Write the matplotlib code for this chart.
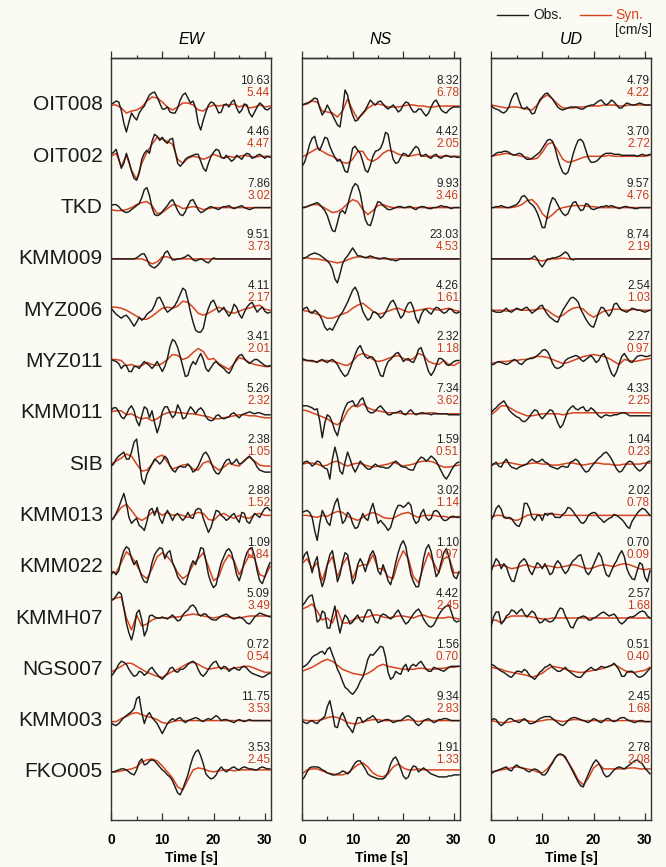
import numpy as np
import matplotlib
matplotlib.use("Agg")
import matplotlib.pyplot as plt
from matplotlib.lines import Line2D
from matplotlib.ticker import MultipleLocator

# ---------------- data ----------------
stations = ["OIT008", "OIT002", "TKD", "KMM009", "MYZ006", "MYZ011", "KMM011",
            "SIB", "KMM013", "KMM022", "KMMH07", "NGS007", "KMM003", "FKO005"]
components = ["EW", "NS", "UD"]

ew_obs_peak = [10.63, 4.46, 7.86, 9.51, 4.11, 3.41, 5.26, 2.38, 2.88, 1.09, 5.09, 0.72, 11.75, 3.53]
ew_syn_peak = [5.44, 4.47, 3.02, 3.73, 2.17, 2.01, 2.32, 1.05, 1.52, 0.84, 3.49, 0.54, 3.53, 2.45]
ns_obs_peak = [8.32, 4.42, 9.93, 23.03, 4.26, 2.32, 7.34, 1.59, 3.02, 1.10, 4.42, 1.56, 9.34, 1.91]
ns_syn_peak = [6.78, 2.05, 3.46, 4.53, 1.61, 1.18, 3.62, 0.51, 1.14, 0.97, 2.45, 0.70, 2.83, 1.33]
ud_obs_peak = [4.79, 3.70, 9.57, 8.74, 2.54, 2.27, 4.33, 1.04, 2.02, 0.70, 2.57, 0.51, 2.45, 2.78]
ud_syn_peak = [4.22, 2.72, 4.76, 2.19, 1.03, 0.97, 2.25, 0.23, 0.78, 0.09, 1.68, 0.40, 1.68, 2.08]

obs_dt = 0.5
syn_dt = 1.0   # s, sampling of synthetic traces

# waveform amplitudes (plot units, positive up)
ew_oit008_obs = [1,2,4,3,-5,-18,-27,-17,-8,-12,-15,-8,-4,-1,5,10,12,13,8,2,-4,-4,-2,-7,-8,-8,-3,5,10,12,7,2,4,-3,-18,-25,-15,-7,0,3,2,-2,-8,-7,0,1,-2,3,5,-3,-8,-5,1,0,-8,-12,-7,-2,2,0,-4,-5,-3]
ew_oit008_syn = [0,0,-3,-8,-6,-5,-2,4,8,7,3,-2,-5,-2,2,2,0,-5,-6,-2,0,-1,0,0,1,-2,0,-3,-2,0,-2,-1]
ew_oit002_obs = [2,4,7,-2,-12,-7,3,-5,-15,-22,-24,-17,-3,3,6,3,15,22,20,16,19,15,13,17,18,5,-7,-10,-7,-3,-1,0,1,2,2,-5,-12,-15,-7,0,4,7,6,-1,-2,1,-2,-5,-3,1,-1,-3,1,3,2,-2,-1,1,2,0,-2,0,-1]
ew_oit002_syn = [0,3,-10,1,-14,-23,-7,4,12,19,17,15,12,-3,-7,-2,0,-1,-3,-1,2,0,-2,0,-1,0,1,0,-1,0,0,0]
ew_tkd_obs = [2,3,3,1,-2,-4,-5,-4,-2,0,2,4,10,18,20,12,0,-7,-8,-7,-4,-1,2,6,8,3,-3,-7,-8,-4,2,7,8,3,-2,-5,-4,-2,0,1,0,-1,-2,0,1,1,2,0,-1,0,1,2,0,-1,-2,-1,0,0,0,0,0,0,0]
ew_tkd_syn = [-2,-3,-3,-2,0,3,5,6,2,-6,-5,-1,3,2,-1,0,1,0,-2,-1,0,0,0,0,0,0,0,0,0,0,0,0]
ew_kmm009_obs = [0,0,0,0,0,0,0,0,0,0,1,3,5,5,0,-6,-8,-9,-7,-4,0,6,8,3,-1,-1,0,0,1,2,4,2,-1,-2,-1,0,-1,-3,-4,-1,1,0,0,0,0,0,0,0,0,0,0,0,0,0,0,0,0,0,0,0,0,0,0]
ew_kmm009_syn = [0,0,0,0,0,0,0,-2,-5,-3,2,2,0,0,0,0,0,0,0,0,0,0,0,0,0,0,0,0,0,0,0,0]
ew_myz006_obs = [2,-1,-4,-6,-8,-6,-5,-8,-12,-16,-12,-7,-10,-8,-4,-2,0,5,12,13,8,2,-2,0,2,5,10,16,22,20,10,-2,-12,-20,-22,-22,-18,-6,2,8,10,4,-2,0,3,-2,-6,-2,6,3,-4,-8,-2,3,6,8,3,-2,1,3,-1,-3,-2]
ew_myz006_syn = [3,3,2,0,-3,-6,-9,-9,-6,-2,2,3,2,4,9,8,3,-3,-5,-3,0,3,1,-2,-3,-1,1,2,4,5,1,0]
ew_myz011_obs = [2,1,0,-2,-7,-4,-4,-10,-10,-5,-5,-7,-3,0,-2,-4,-7,-4,0,-5,-10,-5,3,15,22,20,14,5,-5,-15,-14,-5,0,-3,3,8,2,-7,-10,-6,-2,0,-3,-5,-7,-10,-12,-8,-2,3,6,7,3,0,-2,0,2,2,0,-2,-4,-5,-4]
ew_myz011_syn = [2,2,1,-4,-3,-5,-4,-1,-3,-4,-2,2,7,6,2,4,9,13,10,2,3,-2,-5,-8,-2,4,2,-1,-3,-4,-5,-5]
ew_kmm011_obs = [2,5,5,1,-4,-6,-2,4,7,2,-8,-13,-3,6,4,-5,2,-10,-20,-12,1,6,6,0,-5,-2,8,3,-6,-5,1,6,3,-1,3,5,2,-4,-7,-8,-7,-3,-2,-5,-6,-5,-4,-1,0,-3,-5,-2,-1,0,1,0,-1,0,0,-1,-2,-2,-2]
ew_kmm011_syn = [1,2,2,-2,-1,-4,-6,-5,-8,-6,-2,0,1,0,0,-1,-1,-2,-3,-4,-6,-6,-5,-4,-3,-2,-2,-3,-3,-4,-5,-5]
ew_sib_obs = [-2,0,5,8,10,12,5,5,12,22,25,5,-15,-20,-10,-5,0,5,3,0,3,8,5,-2,-6,-8,-4,-2,-3,-3,0,-3,-8,-6,-2,4,10,12,8,2,-5,-9,-10,-6,0,4,5,0,2,5,0,1,3,6,8,5,2,-3,-6,-7,-8,-8,-8]
ew_sib_syn = [0,3,6,10,8,0,-7,-6,0,7,9,2,-5,-3,-1,0,-5,-6,1,3,-2,-6,-3,1,-1,-2,4,7,3,-1,-2,-2]
ew_kmm013_obs = [-5,-3,2,8,15,22,12,-2,-8,-5,-3,-10,-12,-15,-6,5,7,0,8,-3,-8,0,5,0,-5,0,2,-2,-5,-2,3,-2,-3,5,7,6,-3,-10,-17,-12,-3,5,4,0,-2,-5,-3,0,2,-3,-7,3,2,-6,-8,-3,2,0,-2,3,7,8,5]
ew_kmm013_syn = [-5,1,8,11,5,-2,-5,-2,3,4,0,3,0,1,0,-2,1,3,2,-4,-5,0,2,-1,-3,0,-2,-3,1,2,0,0]
ew_kmm022_obs = [-8,-5,-8,-4,8,16,20,18,8,2,6,-2,-10,-15,-16,-8,4,12,16,19,18,8,14,16,4,-2,-10,-14,-17,-18,-10,0,6,2,10,19,18,6,-8,-16,-21,-18,-6,4,10,16,18,14,4,-8,-14,-6,6,14,18,19,10,-4,-14,-17,-10,-2,4]
ew_kmm022_syn = [-5,-6,4,15,10,2,-8,-12,-2,10,14,10,4,-6,-12,-8,2,8,14,0,-14,-10,4,12,6,-8,2,12,8,-8,-10,0]
ew_kmmh07_obs = [18,19,22,26,24,10,-5,-15,-22,-12,5,8,-2,-18,-12,2,3,1,0,0,1,0,-1,1,3,0,-3,-2,3,6,8,12,13,10,4,2,4,4,1,-1,-2,-2,0,2,3,4,2,0,-1,0,1,0,-2,-5,-6,-3,1,3,5,4,3,2,1]
ew_kmmh07_syn = [17,20,21,0,-12,3,-8,-6,-2,0,0,0,1,1,2,3,4,3,2,1,0,1,2,1,0,0,1,2,2,2,2,2]
ew_ngs007_obs = [-7,-4,0,5,8,7,5,0,-4,-7,-6,-2,-3,-6,-4,0,2,-2,-5,-8,-10,-7,-4,1,2,-2,-3,0,0,2,5,7,8,6,0,-5,-7,-4,0,4,7,8,3,0,3,2,-2,0,2,0,-1,2,3,1,-2,-4,-5,-6,-7,-8,-7,-5,-4]
ew_ngs007_syn = [-3,0,3,6,6,3,0,-3,-5,-7,-8,-5,-2,0,3,6,7,5,2,0,1,2,1,0,1,2,3,3,1,-1,-3,-3]
ew_kmm003_obs = [-2,-4,-5,-3,0,3,5,7,9,12,22,24,8,-3,5,8,3,0,-3,-8,-13,-8,-3,0,2,0,2,3,0,-2,0,1,2,3,2,0,-1,1,2,1,3,5,3,0,1,1,0,-1,-2,0,1,0,-1,0,1,0,0,0,0,0,0,0,0]
ew_kmm003_syn = [-1,-1,2,4,7,8,6,4,3,1,-2,-3,-1,0,0,0,0,0,0,0,0,0,0,0,0,0,0,0,0,0,0,0]
ew_fko005_obs = [0,0,1,2,3,3,2,0,-2,-3,2,10,13,7,8,11,12,11,8,5,2,0,-3,-5,-9,-15,-21,-23,-17,-10,-3,7,15,20,22,16,8,-2,-5,-7,-6,-3,2,5,2,0,2,4,5,3,2,4,5,4,3,3,2,2,4,5,4,3,3]
ew_fko005_syn = [0,0,1,2,3,5,10,12,13,11,6,0,-6,-15,-18,-8,2,4,3,1,0,1,2,2,1,2,2,2,2,2,2,2]

ns_oit008_obs = [0,1,2,3,5,7,6,-3,-10,-6,0,-5,-10,-15,-20,-22,-5,15,10,-2,-10,-16,-15,-11,-8,-5,0,5,2,0,3,4,1,-2,-4,-2,0,-3,-7,-5,0,3,2,-3,-7,-7,-4,-4,-8,-11,-8,-2,3,5,0,-5,-7,-8,-5,-3,-2,-2,-2]
ns_oit008_syn = [0,1,4,3,-6,-7,-8,-12,-6,6,-5,-14,-9,-3,0,1,0,-2,-2,-2,-1,0,0,-1,-1,-2,-2,-1,-1,-1,-1,-1]
ns_oit002_obs = [-10,-6,2,12,18,20,10,6,12,19,18,10,4,-1,-5,-3,-8,-15,-16,-5,8,10,6,3,-5,-14,-16,-9,0,5,6,8,14,24,22,8,-3,-7,-6,-1,3,2,0,3,7,10,8,0,1,2,-1,-2,1,2,-1,-2,0,1,0,-1,0,-1,-1]
ns_oit002_syn = [-1,2,5,8,5,2,0,-3,-6,-7,-3,5,5,-3,-5,-2,3,6,5,2,1,0,1,2,0,0,0,0,0,0,0,0]
ns_tkd_obs = [0,0,1,2,3,4,5,3,0,-3,-8,-16,-23,-24,-15,-5,-3,-6,2,12,20,24,22,14,0,-12,-17,-18,-10,0,6,5,2,0,-2,-2,-1,0,1,1,0,0,1,1,-1,-2,0,1,1,0,-1,-1,0,0,1,2,1,1,0,-1,0,0,0]
ns_tkd_syn = [0,1,3,3,1,-2,-5,-4,-1,4,8,6,-2,-7,-3,2,3,1,0,0,0,0,0,0,0,0,0,0,0,0,0,0]
ns_kmm009_obs = [0,1,2,4,5,6,5,4,2,0,-2,-5,-10,-20,-24,-15,-5,0,3,7,11,7,3,3,2,1,2,3,2,1,0,0,1,1,0,-1,-1,-2,-1,0,0,0,0,0,0,0,0,0,0,0,0,0,0,0,0,0,0,0,0,0,0,0,0]
ns_kmm009_syn = [1,1,0,0,-1,-2,-3,-4,-3,-1,1,2,2,1,1,1,0,0,0,0,0,0,0,0,0,0,0,0,0,0,0,0]
ns_myz006_obs = [0,2,3,-2,-3,0,-2,-5,-10,-17,-20,-18,-20,-15,-10,-5,-2,3,8,14,20,23,18,8,-1,-6,-10,-8,-2,-2,-4,-8,-6,-2,3,8,10,5,-2,-8,-5,2,7,8,2,-8,-13,-5,0,1,-2,-4,0,3,2,-1,-3,-2,1,1,-2,-3,-2]
ns_myz006_syn = [0,-1,-2,-4,-6,-8,-8,-6,-4,-2,2,5,7,3,-1,-4,-3,-1,1,2,0,-2,-1,0,1,2,1,0,1,2,0,-1]
ns_myz011_obs = [3,2,1,1,1,0,-1,1,2,0,-1,1,2,0,-3,-8,-12,-15,-13,-7,0,7,13,16,10,5,3,5,4,0,-7,-14,-15,-6,0,2,5,8,9,5,0,2,3,0,-1,4,12,14,7,-2,-10,-14,-10,-4,3,3,1,-3,-4,-2,0,1,1]
ns_myz011_syn = [1,1,0,0,1,1,0,-1,-3,-4,0,6,8,6,2,0,1,3,5,6,3,1,3,8,6,0,-2,-3,1,-3,-4,-1]
ns_kmm011_obs = [7,7,7,6,5,3,4,-8,-25,-10,-2,-4,-10,-18,-23,-12,-2,5,10,11,12,7,8,13,15,8,2,0,0,2,5,7,4,1,-2,-2,0,0,1,2,-1,-2,1,3,0,-2,-1,0,0,-1,-1,-2,-1,-1,-1,-1,-1,-1,-2,-2,-2,-2,-2]
ns_kmm011_syn = [3,2,0,-2,-4,-6,-10,-12,-8,2,7,6,9,5,3,2,1,0,0,0,-1,-1,-1,-1,-1,0,0,-1,-1,-1,-1,-1]
ns_sib_obs = [0,2,3,1,-2,0,3,2,-2,-4,-5,-15,5,17,7,-7,-10,2,12,5,-3,-8,-3,3,0,-3,-5,-5,-2,0,-2,-3,-3,-4,-4,-2,1,3,1,-2,-3,-3,-5,-6,-6,0,4,7,6,3,5,8,6,3,-2,-7,-12,-15,-11,-6,-2,1,2]
ns_sib_syn = [0,1,1,0,-2,-1,2,3,0,-2,0,1,0,-2,-3,-2,-1,0,2,0,-2,-1,0,2,3,3,2,-1,-3,-3,-2,-1]
ns_kmm013_obs = [3,4,5,3,-2,-15,-25,-8,5,0,-7,-10,3,12,17,5,-8,-5,3,0,-8,-13,-12,-5,2,-3,-5,5,12,2,-8,-5,-8,-11,-15,-12,-3,5,10,10,8,10,13,10,-3,-8,-6,2,6,-2,-5,-3,4,5,3,-2,-5,-5,-3,-1,-1,-2,-2]
ns_kmm013_syn = [0,0,-1,-2,0,-1,2,4,3,-1,-3,-5,-2,1,3,1,-2,-3,-3,0,2,3,0,-2,0,0,0,-1,-1,-2,-2,-1]
ns_kmm022_obs = [5,12,15,5,-6,4,10,-10,-20,-12,2,12,16,2,-15,-8,5,14,12,-2,-17,-12,2,8,3,-5,4,12,16,10,-4,-8,2,-5,-14,-18,-8,4,14,22,26,20,5,-8,-15,-20,-20,-8,8,18,22,15,2,-10,-6,5,14,18,10,-2,-10,-12,-5]
ns_kmm022_syn = [3,8,-2,4,-14,2,10,-10,2,10,-12,0,2,2,12,-2,-2,-10,-12,5,16,8,-10,-16,0,14,4,-6,8,10,-6,-6]
ns_kmmh07_obs = [12,15,19,22,23,12,-4,-2,7,5,-10,-10,2,12,-3,-15,-4,3,0,-6,-4,0,3,-2,-4,3,8,8,2,-4,-5,2,4,3,1,-1,1,5,8,3,-2,-6,-4,0,4,7,9,5,-1,-5,-8,-9,-7,-2,3,7,10,12,13,6,-2,-4,-3]
ns_kmmh07_syn = [9,11,14,7,-2,0,-5,8,-5,-5,-2,0,1,1,3,3,1,0,1,2,2,1,0,2,3,1,0,0,0,1,0,-1]
ns_ngs007_obs = [2,3,5,8,12,14,15,17,18,15,20,22,15,8,0,-5,-12,-18,-20,-23,-25,-22,-18,-12,-8,0,10,15,14,17,20,23,22,12,-3,-10,-8,-2,-4,-5,2,5,-2,3,5,3,6,8,4,0,-2,-2,2,1,0,-1,-2,0,2,3,3,3,3]
ns_ngs007_syn = [-2,0,2,5,8,10,8,4,0,-2,-4,-5,-6,-4,-1,3,5,3,2,1,0,0,0,1,1,0,0,1,1,2,2,3]
ns_kmm003_obs = [0,-2,-3,-1,0,-2,-3,0,2,4,14,20,8,-6,-7,3,8,2,-5,-8,-12,-4,3,3,-2,0,2,3,5,2,-2,-1,0,1,1,0,-2,-1,0,0,2,4,5,3,1,-3,-5,-3,0,1,2,0,-2,-1,1,1,2,2,1,0,0,0,0]
ns_kmm003_syn = [1,0,0,0,1,3,4,3,1,-2,-3,-3,-1,0,1,1,0,0,0,0,0,1,0,-1,0,0,0,0,0,0,0,0]
ns_fko005_obs = [-8,-5,0,4,5,5,5,4,2,1,-1,-2,-3,-3,-2,-1,1,0,-2,0,5,9,11,11,7,3,-2,-4,-5,-6,-7,-7,-7,-5,0,8,13,15,10,3,-4,-7,-5,2,6,5,0,2,4,2,0,-2,-3,-4,-5,-5,-5,-5,-4,-4,-3,-3,-3]
ns_fko005_syn = [-2,2,3,3,1,-1,-2,-3,-3,-1,3,7,9,5,-1,-4,-5,-2,5,8,4,2,2,3,2,2,2,2,2,2,2,2]

ud_oit008_obs = [0,-3,-4,-5,-7,-8,-6,-2,6,11,12,4,-3,-4,-2,-5,-9,-8,-1,5,8,11,12,9,6,2,-2,-4,-5,-4,-3,-2,-2,-2,-3,-4,-4,-2,-1,0,0,2,4,5,2,0,2,5,3,0,-3,-3,0,2,1,0,0,1,2,1,0,0,0]
ud_oit008_syn = [0,-1,-2,-3,-2,-2,-3,-4,-5,0,7,10,6,1,-3,-3,-3,-2,-2,-1,-1,-1,0,0,0,-1,-1,0,0,0,0,0]
ud_oit002_obs = [0,1,3,4,4,5,5,4,2,1,2,3,2,-1,-3,-3,-2,0,2,4,8,12,16,17,15,8,-2,-10,-16,-18,-16,-8,2,10,16,17,14,6,-2,-6,-6,-5,-3,0,2,3,3,3,2,2,2,1,1,1,1,1,1,0,1,2,1,1,2]
ud_oit002_syn = [0,1,2,3,2,1,0,-1,-3,-2,4,12,14,6,-3,-6,-5,-3,-1,0,0,0,0,1,0,0,0,0,0,0,0,1]
ud_tkd_obs = [0,0,1,1,2,1,0,0,1,2,3,6,11,12,9,5,3,0,-5,-12,-20,-20,-8,3,10,8,3,-2,-6,-8,-6,0,5,6,1,-3,-2,4,3,-1,-2,-1,0,1,1,2,1,2,1,0,-1,0,1,1,0,0,-1,-1,0,0,0,0,0]
ud_tkd_syn = [0,0,0,0,0,1,3,7,8,3,-6,-11,-7,-2,0,1,2,2,2,1,1,0,0,0,0,0,0,0,0,0,0,0]
ud_kmm009_obs = [0,0,0,0,0,0,0,0,0,0,0,0,0,0,0,0,1,3,0,-5,-8,-4,0,0,1,1,2,3,5,7,5,0,-1,0,0,0,0,0,0,0,0,0,0,0,0,0,0,0,0,0,0,0,0,0,0,0,0,0,0,0,0,0,0]
ud_kmm009_syn = [0,0,0,0,0,0,0,0,0,-1,-2,-1,0,0,1,0,0,0,0,0,0,0,0,0,0,0,0,0,0,0,0,0]
ud_myz006_obs = [0,-1,-2,-2,-2,0,2,-1,-2,0,2,1,0,2,3,0,-3,-1,1,4,5,0,-4,-7,-9,-11,-12,-6,0,4,8,12,13,11,8,1,-4,-9,-13,-16,-17,-10,-2,3,2,-2,-6,-2,6,7,3,0,-1,-2,0,2,1,0,0,-1,-2,-1,0]
ud_myz006_syn = [0,0,0,-1,0,1,0,0,0,1,2,0,-4,-7,-5,-1,2,3,1,-4,-7,-4,-1,0,1,1,0,0,1,0,0,0]
ud_myz011_obs = [-3,-3,-1,0,-1,-2,-3,-2,0,2,1,-2,-3,0,2,3,3,4,6,8,11,12,10,5,-2,-6,-7,-6,-4,1,3,4,5,6,5,2,0,2,4,6,3,-1,1,6,8,3,-5,-12,-15,-10,-2,5,8,4,0,-1,2,5,6,6,5,5,6]
ud_myz011_syn = [-2,-1,0,0,1,1,2,2,4,5,5,4,2,0,-2,-1,1,3,5,6,7,6,5,3,0,-3,2,1,0,1,2,3]
ud_kmm011_obs = [0,3,5,8,10,12,8,3,0,-2,-4,-5,-8,-9,-7,-4,0,3,2,-3,-6,-3,0,3,2,-3,-10,-15,-12,-5,2,5,7,4,3,5,6,2,2,5,3,0,-3,-5,-3,-2,-3,-3,-2,-2,-1,0,0,-1,-3,-3,-3,-3,-3,-3,-3,-3,-3]
ud_kmm011_syn = [-2,2,7,7,4,1,-1,-3,-3,-2,-1,-1,-1,-1,-2,-1,0,0,0,0,0,0,0,0,0,0,0,0,0,0,0,0]
ud_sib_obs = [-2,0,2,-2,-3,2,5,0,-3,-4,-5,-3,-2,-1,0,3,5,3,2,3,5,2,1,-2,-3,-4,-5,-3,-2,-3,-3,2,3,5,3,-1,-5,-8,-7,-3,0,3,6,8,11,12,9,5,0,-5,-8,-7,-3,1,3,2,-2,-5,-7,-5,-2,2,3]
ud_sib_syn = [0,0,1,2,1,0,-1,0,1,1,0,0,-1,-1,0,1,1,0,-1,0,1,1,0,0,-1,-1,0,0,0,0,1,1]
ud_kmm013_obs = [-5,0,7,10,6,-2,-3,-2,-3,-7,-10,-11,-5,12,12,7,-2,-5,0,0,-5,2,0,2,2,-2,-2,-2,1,3,8,7,4,0,-3,-7,-8,-5,0,2,3,2,-2,-4,-7,-5,-3,-2,1,0,-2,-4,-7,-11,-13,-6,-2,2,5,7,6,3,0]
ud_kmm013_syn = [-2,0,0,-2,-4,-5,-3,0,1,1,0,2,1,1,0,0,0,0,0,0,0,0,0,0,0,0,0,0,0,0,0,0]
ud_kmm022_obs = [-5,2,8,5,-2,3,0,-8,-14,-15,-6,3,6,8,4,-4,-8,-2,4,2,-2,3,-2,-8,-6,2,6,3,-3,-7,-4,2,6,8,11,12,4,-5,-8,-4,2,8,14,10,0,-8,-10,-4,2,6,12,16,10,-2,-8,-12,-13,-4,4,2,-10,-15,-4]
ud_kmm022_syn = [0,1,2,0,-2,-1,1,2,0,-1,0,1,0,-1,0,1,2,1,-1,-2,-1,1,2,1,0,2,3,2,0,-2,-3,-2]
ud_kmmh07_obs = [-9,1,6,6,-6,-3,2,4,8,7,4,7,9,4,1,4,7,5,-1,-5,-4,-1,-3,-4,-3,0,6,10,9,2,-3,-9,-10,-4,0,1,2,1,-2,-2,0,1,3,5,6,4,2,3,4,1,-4,-6,-4,-1,1,1,2,4,6,7,6,2,0]
ud_kmmh07_syn = [-3,-2,-5,0,2,2,2,2,1,0,-1,-1,0,0,0,0,0,0,0,0,0,0,0,0,0,0,0,0,0,0,0,0]
ud_ngs007_obs = [5,4,2,0,-2,-3,-5,-7,-8,-5,-2,-2,-3,0,-2,-6,-8,-10,-7,-3,-1,2,3,5,2,0,-2,-2,0,2,-1,-3,-5,-7,-8,-8,-5,-2,0,2,0,-1,1,3,2,2,3,4,6,3,-1,-7,-7,-3,-2,-2,-4,-7,-8,-7,-5,-2,1]
ud_ngs007_syn = [2,1,0,-2,-3,-4,-5,-6,-8,-6,-4,0,3,2,1,-1,-2,-3,-3,-2,-1,0,1,3,5,2,-1,-3,-3,-2,-1,2]
ud_kmm003_obs = [0,2,1,-3,-5,-3,0,2,2,0,-1,-2,0,2,0,-3,-3,-2,0,2,3,4,4,4,2,0,-2,-4,-5,-3,0,2,3,3,2,1,0,-1,-2,0,2,1,-1,-2,0,2,2,0,-1,0,2,3,3,1,0,-1,-2,-1,0,0,-1,-1,-1]
ud_kmm003_syn = [0,-1,-2,-2,-1,0,1,0,-1,-1,0,1,1,0,-1,0,1,1,0,0,0,0,0,0,0,0,0,0,0,-1,-1,-1]
ud_fko005_obs = [-2,0,1,2,3,4,5,2,1,5,7,5,4,3,1,0,2,3,2,0,-3,-3,0,5,9,14,17,18,17,15,10,5,0,-5,-10,-14,-15,-8,-2,4,9,12,9,4,-2,-5,-4,-1,2,4,5,4,3,5,7,9,11,12,10,8,4,1,-2]
ud_fko005_syn = [0,1,2,3,4,5,4,3,2,0,-1,3,10,17,17,10,2,-8,-13,-6,4,8,3,3,3,3,3,4,4,3,3,3]

# ---------------- tables built from the named lists ----------------
obs_traces = {
    "EW": [ew_oit008_obs, ew_oit002_obs, ew_tkd_obs, ew_kmm009_obs, ew_myz006_obs, ew_myz011_obs, ew_kmm011_obs,
           ew_sib_obs, ew_kmm013_obs, ew_kmm022_obs, ew_kmmh07_obs, ew_ngs007_obs, ew_kmm003_obs, ew_fko005_obs],
    "NS": [ns_oit008_obs, ns_oit002_obs, ns_tkd_obs, ns_kmm009_obs, ns_myz006_obs, ns_myz011_obs, ns_kmm011_obs,
           ns_sib_obs, ns_kmm013_obs, ns_kmm022_obs, ns_kmmh07_obs, ns_ngs007_obs, ns_kmm003_obs, ns_fko005_obs],
    "UD": [ud_oit008_obs, ud_oit002_obs, ud_tkd_obs, ud_kmm009_obs, ud_myz006_obs, ud_myz011_obs, ud_kmm011_obs,
           ud_sib_obs, ud_kmm013_obs, ud_kmm022_obs, ud_kmmh07_obs, ud_ngs007_obs, ud_kmm003_obs, ud_fko005_obs],
}
syn_traces = {
    "EW": [ew_oit008_syn, ew_oit002_syn, ew_tkd_syn, ew_kmm009_syn, ew_myz006_syn, ew_myz011_syn, ew_kmm011_syn,
           ew_sib_syn, ew_kmm013_syn, ew_kmm022_syn, ew_kmmh07_syn, ew_ngs007_syn, ew_kmm003_syn, ew_fko005_syn],
    "NS": [ns_oit008_syn, ns_oit002_syn, ns_tkd_syn, ns_kmm009_syn, ns_myz006_syn, ns_myz011_syn, ns_kmm011_syn,
           ns_sib_syn, ns_kmm013_syn, ns_kmm022_syn, ns_kmmh07_syn, ns_ngs007_syn, ns_kmm003_syn, ns_fko005_syn],
    "UD": [ud_oit008_syn, ud_oit002_syn, ud_tkd_syn, ud_kmm009_syn, ud_myz006_syn, ud_myz011_syn, ud_kmm011_syn,
           ud_sib_syn, ud_kmm013_syn, ud_kmm022_syn, ud_kmmh07_syn, ud_ngs007_syn, ud_kmm003_syn, ud_fko005_syn],
}
obs_peaks = {"EW": ew_obs_peak, "NS": ns_obs_peak, "UD": ud_obs_peak}
syn_peaks = {"EW": ew_syn_peak, "NS": ns_syn_peak, "UD": ud_syn_peak}

# ---------------- style ----------------
plt.rcParams["font.family"] = ["Liberation Sans", "DejaVu Sans"]
BG = "#fbfaf3"
OBS_C = "#1c1c1c"
SYN_C = "#d8431f"
NUM_RED = "#c93a20"
ROW_UNIT = 51.3          # amplitude units per trace spacing
W, H = 666, 867

fig = plt.figure(figsize=(W / 100, H / 100), dpi=100, facecolor=BG)

panel_px = {"EW": (111, 271), "NS": (302, 460), "UD": (491, 651)}
top_px, bot_px = 58, 820
first_base_px = 105
ymax = (first_base_px - top_px) / ROW_UNIT
ymin = -(bot_px - first_base_px) / ROW_UNIT
XMAX = 31.2

for comp in components:
    x0, x1 = panel_px[comp]
    ax = fig.add_axes([x0 / W, 1 - bot_px / H, (x1 - x0) / W, (bot_px - top_px) / H])
    ax.set_facecolor(BG)
    ax.set_xlim(0, XMAX)
    ax.set_ylim(ymin, ymax)
    for i, st in enumerate(stations):
        base = -i
        o = np.asarray(obs_traces[comp][i], dtype=float)
        s = np.asarray(syn_traces[comp][i], dtype=float)
        to = np.arange(len(o)) * obs_dt
        ts = np.arange(len(s)) * syn_dt
        ax.plot(ts, base + s / ROW_UNIT, color=SYN_C, lw=1.1, zorder=2, solid_joinstyle="round")
        ax.plot(to, base + o / ROW_UNIT, color=OBS_C, lw=1.05, zorder=3, solid_joinstyle="round")
        ax.text(XMAX - 0.2, base + 24 / ROW_UNIT, f"{obs_peaks[comp][i]:.2f}", ha="right", va="center",
                fontsize=8.5, color="#222222", zorder=4)
        ax.text(XMAX - 0.2, base + 12 / ROW_UNIT, f"{syn_peaks[comp][i]:.2f}", ha="right", va="center",
                fontsize=8.5, color=NUM_RED, zorder=4)
        if comp == "EW":
            ax.text(-1.6, base, st, ha="right", va="center", fontsize=15, color="#1a1a1a", clip_on=False)
    ax.set_yticks([])
    # bottom axis: ticks pointing into the frame, bold labels
    ax.xaxis.set_major_locator(MultipleLocator(10))
    ax.xaxis.set_minor_locator(MultipleLocator(5))
    ax.tick_params(axis="x", which="both", direction="in", top=False, bottom=True,
                   labelbottom=True, color="#333333", width=0.9)
    ax.tick_params(axis="x", which="major", length=5, labelsize=10, pad=9)
    ax.tick_params(axis="x", which="minor", length=3)
    for lab in ax.get_xticklabels():
        lab.set_fontweight("bold")
    ax.set_xlabel("Time [s]", fontsize=10, fontweight="bold", labelpad=3)
    # top axis: ticks pointing outward, no labels
    sec = ax.secondary_xaxis("top")
    sec.xaxis.set_major_locator(MultipleLocator(10))
    sec.xaxis.set_minor_locator(MultipleLocator(5))
    sec.tick_params(axis="x", which="both", direction="out", labeltop=False, color="#333333", width=0.9)
    sec.tick_params(axis="x", which="major", length=5)
    sec.tick_params(axis="x", which="minor", length=2.5)
    sec.spines["top"].set_color("#333333")
    sec.spines["top"].set_linewidth(1.0)
    for sp in ax.spines.values():
        sp.set_color("#333333")
        sp.set_linewidth(1.0)
    fig.text((x0 + x1) / 2 / W, 1 - 39 / H, comp, ha="center", va="center",
             fontsize=11.5, style="italic")

# legend (top right)
ly = 1 - 15 / H
fig.add_artist(Line2D([497 / W, 528 / W], [ly, ly], color=OBS_C, lw=1.0))
fig.text(533 / W, ly, "Obs.", ha="left", va="center", fontsize=10, color="#1a1a1a")
fig.add_artist(Line2D([580 / W, 611 / W], [ly, ly], color=SYN_C, lw=1.0))
fig.text(615 / W, ly, "Syn.", ha="left", va="center", fontsize=10, color=SYN_C)
fig.text(652 / W, 1 - 30 / H, "[cm/s]", ha="right", va="center", fontsize=10, color="#1a1a1a")

fig.savefig("out.png", dpi=100, facecolor=BG)
